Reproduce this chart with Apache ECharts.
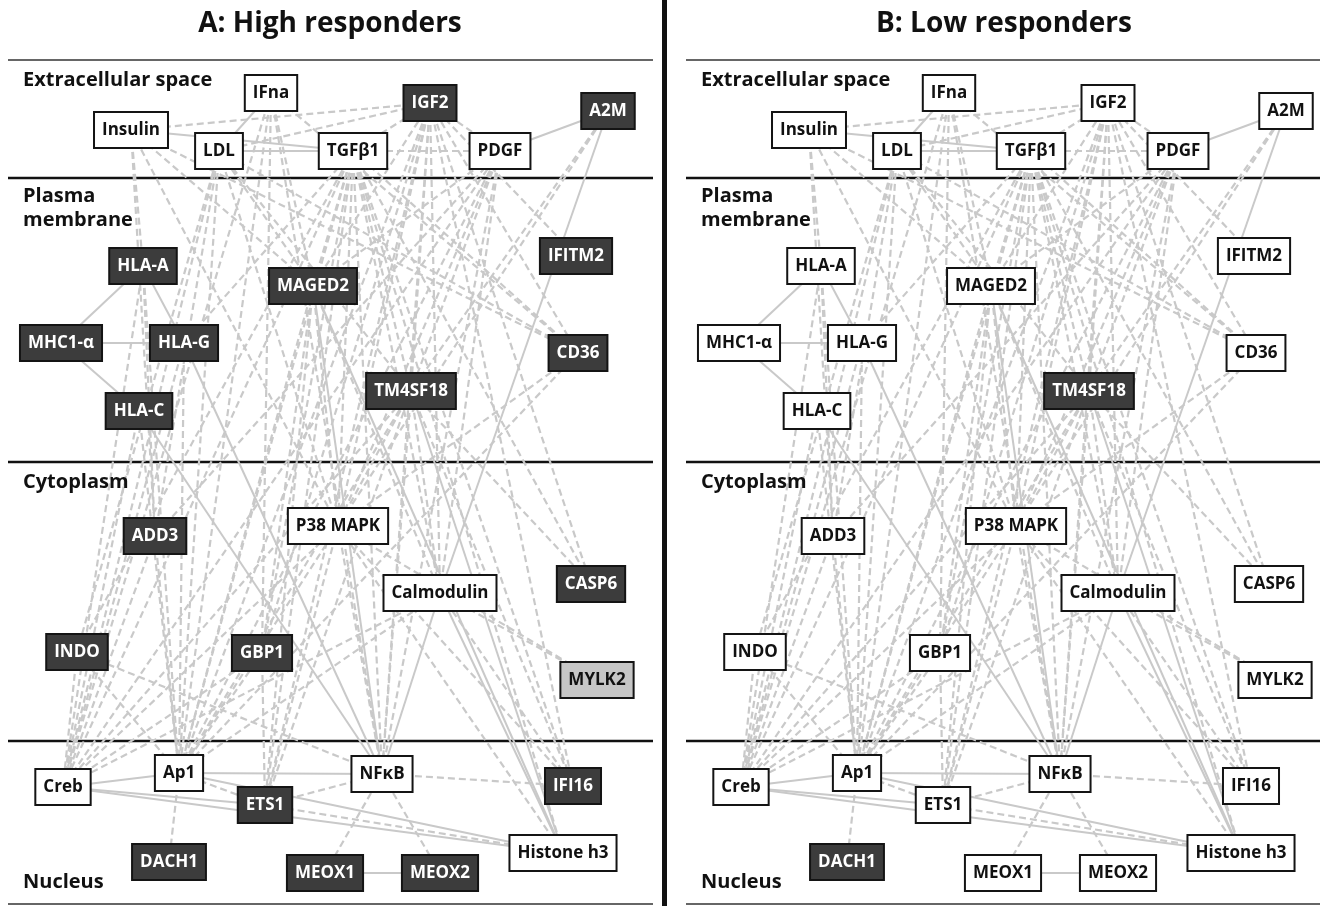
<!DOCTYPE html>
<html>
<head>
<meta charset="utf-8">
<script src="https://cdn.jsdelivr.net/npm/echarts@6/dist/echarts.min.js"></script>
<style>
  html, body { margin: 0; padding: 0; background: #fff; }
  #chart { width: 1328px; height: 906px; }
</style>
</head>
<body>
<div id="chart"></div>
<script>
// Molecules in the network
const nodeNames = ['Insulin','IFna','LDL','TGFβ1','IGF2','PDGF','A2M',
  'HLA-A','MAGED2','IFITM2','MHC1-α','HLA-G','CD36','TM4SF18','HLA-C',
  'ADD3','P38 MAPK','Calmodulin','CASP6','INDO','GBP1','MYLK2',
  'Creb','Ap1','ETS1','NFκB','IFI16','Histone h3','DACH1','MEOX1','MEOX2'];

// Network layout (layout units, shared by both panels)
const layoutX = [123,263,211,345,422,492,600,
  135,305,568,53,176,570,403,131,
  147,330,432,583,69,254,589,
  55,171,257,374,565,555,161,317,432];
const layoutY = [130,93,151,151,103,151,111,
  266,286,256,343,343,353,391,411,
  536,526,593,584,652,653,680,
  787,773,805,774,786,853,862,873,873];

// Expression level per molecule: 2 = strongly changed, 1 = moderately changed, 0 = unchanged
const levelHigh = [0,0,0,0,2,0,2,
  2,2,2,2,2,2,2,2,
  2,0,0,2,2,2,1,
  0,0,2,0,2,0,2,2,2];
const levelLow = [0,0,0,0,0,0,0,
  0,0,0,0,0,0,2,0,
  0,0,0,0,0,0,0,
  0,0,0,0,0,0,2,0,0];

// Interactions: [source, target, kind]  s = direct, d = indirect
const edges = [
  ['Insulin','TGFβ1','s'],['LDL','TGFβ1','s'],['LDL','IFna','s'],
  ['Insulin','IGF2','d'],['LDL','IGF2','d'],['TGFβ1','IGF2','d'],
  ['TGFβ1','PDGF','d'],['IGF2','PDGF','d'],['PDGF','A2M','s'],
  ['IFna','MAGED2','d'],['IFna','Ap1','d'],['IFna','Creb','d'],['IFna','GBP1','d'],['IFna','NFκB','d'],['IFna','CD36','d'],
  ['Insulin','HLA-A','d'],['Insulin','MAGED2','d'],['Insulin','CD36','d'],['Insulin','P38 MAPK','d'],['Insulin','ADD3','d'],
  ['LDL','Creb','d'],['LDL','INDO','d'],['LDL','Ap1','d'],['LDL','ADD3','d'],['LDL','CD36','d'],['LDL','P38 MAPK','d'],
  ['LDL','TM4SF18','d'],['LDL','MAGED2','d'],
  ['TGFβ1','Creb','d'],['TGFβ1','Ap1','d'],['TGFβ1','INDO','d'],['TGFβ1','GBP1','d'],['TGFβ1','P38 MAPK','d'],
  ['TGFβ1','Calmodulin','d'],['TGFβ1','NFκB','d'],['TGFβ1','TM4SF18','d'],['TGFβ1','CD36','d'],['TGFβ1','CASP6','d'],
  ['TGFβ1','IFI16','d'],['TGFβ1','Histone h3','d'],['TGFβ1','ETS1','d'],['TGFβ1','MAGED2','d'],['TGFβ1','HLA-G','d'],
  ['IGF2','P38 MAPK','d'],['IGF2','Ap1','d'],['IGF2','ETS1','d'],['IGF2','NFκB','d'],['IGF2','Calmodulin','d'],
  ['IGF2','CD36','d'],['IGF2','TM4SF18','d'],['IGF2','GBP1','d'],['IGF2','MAGED2','d'],['IGF2','IFI16','d'],
  ['IGF2','IFITM2','d'],['IGF2','CASP6','d'],
  ['PDGF','Creb','d'],['PDGF','Ap1','d'],['PDGF','P38 MAPK','d'],['PDGF','MAGED2','d'],['PDGF','NFκB','d'],
  ['PDGF','TM4SF18','d'],['PDGF','Calmodulin','d'],['PDGF','ADD3','d'],
  ['A2M','Calmodulin','s'],['A2M','P38 MAPK','d'],['A2M','TM4SF18','d'],
  ['MHC1-α','HLA-A','s'],['MHC1-α','HLA-G','s'],['MHC1-α','HLA-C','s'],['HLA-A','HLA-G','s'],
  ['HLA-A','Creb','d'],['HLA-A','Ap1','d'],['HLA-A','ADD3','d'],
  ['HLA-G','NFκB','s'],['HLA-G','Creb','d'],['HLA-G','Ap1','d'],
  ['HLA-C','NFκB','s'],['HLA-C','Creb','d'],['HLA-C','Ap1','d'],
  ['MAGED2','NFκB','s'],['MAGED2','Histone h3','s'],['MAGED2','Ap1','d'],['MAGED2','P38 MAPK','d'],
  ['MAGED2','Calmodulin','d'],['MAGED2','GBP1','d'],['MAGED2','ETS1','d'],
  ['TM4SF18','NFκB','d'],['TM4SF18','Ap1','d'],['TM4SF18','Histone h3','s'],['TM4SF18','IFI16','d'],
  ['TM4SF18','P38 MAPK','d'],['TM4SF18','Calmodulin','d'],['TM4SF18','CASP6','d'],['TM4SF18','ETS1','d'],['TM4SF18','Creb','d'],
  ['CD36','Ap1','d'],['CD36','P38 MAPK','d'],
  ['ADD3','Creb','d'],['ADD3','Ap1','d'],
  ['INDO','NFκB','d'],['INDO','Creb','d'],['INDO','Ap1','d'],
  ['GBP1','Ap1','d'],['GBP1','ETS1','d'],['GBP1','Creb','d'],
  ['P38 MAPK','Ap1','d'],['P38 MAPK','Creb','d'],['P38 MAPK','NFκB','d'],['P38 MAPK','ETS1','d'],
  ['P38 MAPK','IFI16','d'],['P38 MAPK','Histone h3','d'],['P38 MAPK','MYLK2','d'],
  ['Calmodulin','NFκB','s'],['Calmodulin','Ap1','d'],['Calmodulin','MYLK2','d'],['Calmodulin','Histone h3','s'],
  ['Calmodulin','IFI16','d'],['Calmodulin','Creb','d'],
  ['Creb','Ap1','s'],['Creb','ETS1','s'],['Creb','Histone h3','s'],['Ap1','Histone h3','s'],
  ['Ap1','NFκB','s'],['Ap1','ETS1','d'],['Ap1','DACH1','d'],
  ['ETS1','NFκB','d'],['ETS1','Histone h3','d'],
  ['NFκB','IFI16','d'],['NFκB','MEOX1','d'],['NFκB','MEOX2','d'],['MEOX1','MEOX2','s']
];

// Compartments and their boundaries
const compartments = ['Extracellular space', 'Plasma\nmembrane', 'Cytoplasm', 'Nucleus'];
const boundaries = [60, 178, 462, 741, 904];
const panelTitles = ['A: High responders', 'B: Low responders'];

const FONT = '"Open Sans", "DejaVu Sans", sans-serif';
const fills = ['#ffffff', '#c6c6c6', '#3c3c3c'];
const inks = ['#111111', '#111111', '#ffffff'];

const panels = [
  { left: 8, width: 645, levels: levelHigh },
  { left: 686, width: 634, levels: levelLow }
];

const grids = [], xAxes = [], yAxes = [], series = [];
panels.forEach((p, i) => {
  grids.push({ left: p.left, top: 0, width: p.width, height: 906, containLabel: false });
  xAxes.push({ type: 'value', gridIndex: i, min: 0, max: p.width, show: false });
  yAxes.push({ type: 'value', gridIndex: i, min: 0, max: 906, inverse: true, show: false });

  // compartment boundaries
  boundaries.forEach((b, k) => {
    const outer = (k === 0 || k === boundaries.length - 1);
    series.push({
      type: 'line', xAxisIndex: i, yAxisIndex: i, silent: true, symbol: 'none',
      z: 1,
      lineStyle: { color: outer ? '#333' : '#111', width: outer ? 1.6 : 2.4 },
      data: [[0, b], [p.width, b]]
    });
  });

  series.push({
    type: 'graph',
    coordinateSystem: 'cartesian2d',
    xAxisIndex: i, yAxisIndex: i,
    z: 3,
    symbol: 'rect',
    symbolSize: 2,
    itemStyle: { color: 'rgba(0,0,0,0)' },
    edgeSymbol: ['none', 'none'],
    label: {
      show: true, position: 'inside',
      fontFamily: FONT, fontWeight: 'bold', fontSize: 17, lineHeight: 20,
      padding: [7, 7, 7, 7],
      borderColor: '#141414', borderWidth: 2
    },
    data: nodeNames.map((n, k) => ({
      name: n,
      value: [layoutX[k], layoutY[k]],
      label: {
        color: inks[p.levels[k]],
        backgroundColor: fills[p.levels[k]]
      }
    })),
    links: edges.map(e => ({
      source: e[0], target: e[1],
      lineStyle: {
        type: e[2] === 's' ? 'solid' : [7, 4],
        width: e[2] === 's' ? 2 : 2.2
      }
    })),
    lineStyle: { color: '#c9c9c9', opacity: 1, width: 2, curveness: 0 },
    emphasis: { disabled: true }
  });
});

const graphic = [
  { type: 'rect', shape: { x: 662, y: 0, width: 5, height: 906 }, style: { fill: '#111' }, z: 10 }
];
panels.forEach((p, i) => {
  graphic.push({
    type: 'text', x: p.left + (i === 0 ? 322 : 318), y: 10,
    style: { text: panelTitles[i], font: 'bold 28px ' + FONT, fill: '#111', textAlign: 'center', textVerticalAlign: 'top' },
    z: 10
  });
  const labelTops = [68, 184, 470, 870];
  compartments.forEach((c, k) => {
    graphic.push({
      type: 'text', x: p.left + 15, y: labelTops[k],
      style: { text: c, font: 'bold 20px ' + FONT, fill: '#111', lineHeight: 24 },
      z: 10
    });
  });
});

const chart = echarts.init(document.getElementById('chart'), null, { renderer: 'canvas' });
chart.setOption({
  animation: false,
  backgroundColor: '#ffffff',
  grid: grids, xAxis: xAxes, yAxis: yAxes,
  series: series,
  graphic: graphic
});
</script>
</body>
</html>
